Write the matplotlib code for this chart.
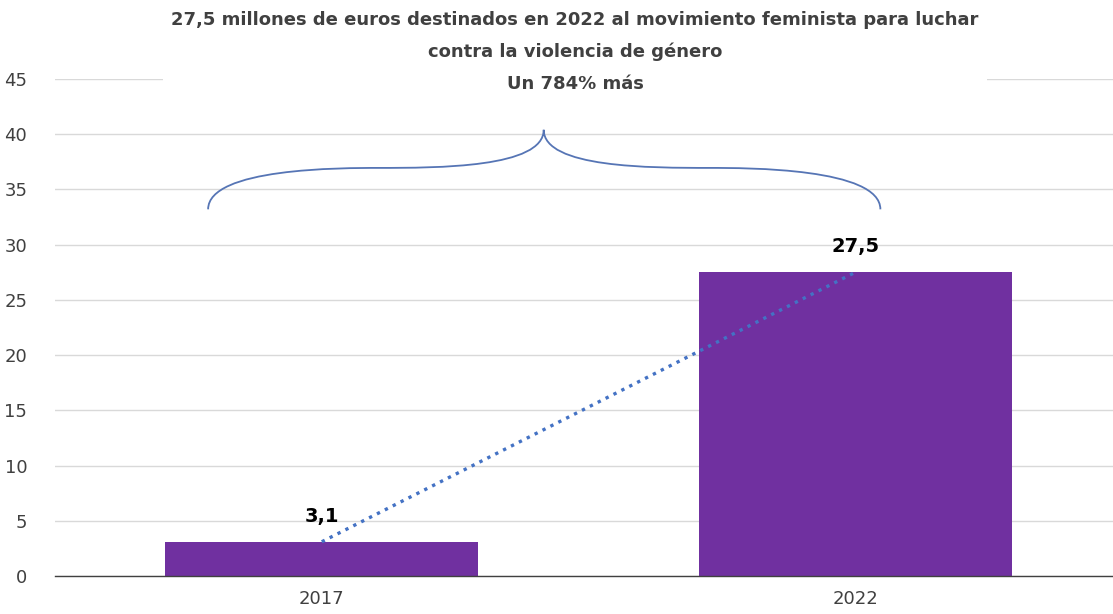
import matplotlib
matplotlib.use("Agg")
import matplotlib.pyplot as plt
from matplotlib.path import Path
from matplotlib.patches import PathPatch

years = ["2017", "2022"]
amounts = [3.1, 27.5]
value_labels = ["3,1", "27,5"]
y_ticks = [0, 5, 10, 15, 20, 25, 30, 35, 40, 45]
title = ("27,5 millones de euros destinados en 2022 al movimiento feminista para luchar\n"
         "contra la violencia de género\n"
         "Un 784% más")

plt.rcParams['font.family'] = ['DejaVu Sans']

W, H = 1113, 614
fig = plt.figure(figsize=(W / 100, H / 100), dpi=100)
# axes box in pixels: left 55, right 1113, y=0 at 576, y=45 at 79
ax = fig.add_axes([55 / W, (H - 576) / H, (1113 - 55) / W, (576 - 79) / H])

x = range(len(years))
ax.bar(x, amounts, width=0.586, color="#7030A0", zorder=2)
ax.plot(x, amounts, linestyle=":", color="#4472C4", linewidth=2.4, zorder=3)

for i, (v, s) in enumerate(zip(amounts, value_labels)):
    ax.text(i, v + 2.3, s, ha="center", va="center", fontsize=14,
            fontweight="bold", color="#000000", zorder=4)

# curly brace spanning both bars
x0, x1, xt = -0.213, 1.047, 0.416
yb, yf, yt = 33.2, 36.95, 40.4
verts = [
    (x0, yb), (x0, yf), (x0 + 0.25, yf), (x0 + 0.32, yf),
    (xt - 0.2, yf), (xt, yf), (xt, yt),
    (xt, yf), (xt + 0.2, yf), (x1 - 0.32, yf),
    (x1 - 0.25, yf), (x1, yf), (x1, yb),
]
codes = [Path.MOVETO, Path.CURVE4, Path.CURVE4, Path.LINETO,
         Path.CURVE4, Path.CURVE4, Path.CURVE4,
         Path.CURVE4, Path.CURVE4, Path.CURVE4,
         Path.CURVE4, Path.CURVE4, Path.CURVE4]
ax.add_patch(PathPatch(Path(verts, codes), fill=False, edgecolor="#5675B5",
                       linewidth=1.3, zorder=3))

ax.set_xlim(-0.5, 1.483)
ax.set_ylim(0, 45)
ax.set_yticks(y_ticks)
ax.set_xticks(list(x))
ax.set_xticklabels(years)
ax.tick_params(axis="both", length=0, labelsize=13, labelcolor="#404040")
ax.tick_params(axis="y", pad=20)
ax.tick_params(axis="x", pad=10)
ax.yaxis.grid(True, color="#D9D9D9", linewidth=1, zorder=0)
ax.set_axisbelow(True)
for side in ["left", "right", "top"]:
    ax.spines[side].set_visible(False)
ax.spines["bottom"].set_color("#404040")
ax.spines["bottom"].set_linewidth(1)
ax.spines["bottom"].set_zorder(5)

fig.text(575 / W, 1 - 52 / H, title, ha="center", va="center", fontsize=13,
         fontweight="bold", color="#404040", linespacing=1.95,
         bbox=dict(facecolor="white", edgecolor="none", pad=6), zorder=10)

fig.savefig("out.png", dpi=100)
